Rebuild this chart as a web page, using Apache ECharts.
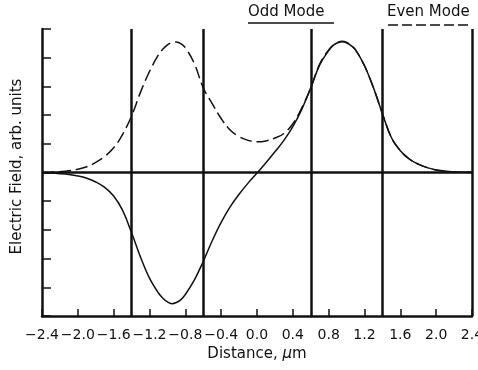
<!DOCTYPE html>
<html style="height: 100%">
<head>
<meta charset="utf-8">
<script src="https://cdn.jsdelivr.net/npm/echarts@6/dist/echarts.min.js"></script>
</head>
<body style="height: 100%; margin: 0; background: #fff">
<div id="container" style="width: 478px; height: 370px"></div>
<script type="text/javascript">
// distance across the structure, in micrometres (extra readings near the peaks)
var distance = [-2.4, -2.3, -2.2, -2.1, -2.0, -1.9, -1.8, -1.7, -1.6, -1.5, -1.4, -1.3, -1.2,
    -1.1, -1.05, -1.0, -0.95, -0.9, -0.85, -0.8, -0.7, -0.6, -0.5, -0.4, -0.3, -0.2, -0.1, 0.0,
    0.1, 0.2, 0.3, 0.4, 0.5, 0.6, 0.7, 0.8, 0.85, 0.9, 0.95, 1.0, 1.05, 1.1, 1.2, 1.3, 1.4, 1.5,
    1.6, 1.7, 1.8, 1.9, 2.0, 2.1, 2.2, 2.3, 2.4];

// odd mode field (solid)
var oddMode = [-0.01, -0.02, -0.04, -0.07, -0.12, -0.2, -0.33, -0.52, -0.82, -1.32, -2.1, -2.95,
    -3.68, -4.2, -4.38, -4.51, -4.57, -4.53, -4.43, -4.25, -3.75, -3.1, -2.38, -1.74, -1.2,
    -0.76, -0.37, -0.02, 0.34, 0.72, 1.12, 1.6, 2.2, 2.95, 3.75, 4.25, 4.43, 4.52, 4.56, 4.52,
    4.42, 4.27, 3.72, 2.95, 2.05, 1.22, 0.76, 0.47, 0.29, 0.17, 0.09, 0.05, 0.02, 0.01, 0.0];

// even mode field (dashed)
var evenMode = [0.0, 0.01, 0.03, 0.06, 0.11, 0.2, 0.35, 0.56, 0.86, 1.33, 1.97, 2.8, 3.52, 4.1,
    4.3, 4.45, 4.53, 4.55, 4.49, 4.35, 3.8, 2.95, 2.4, 1.88, 1.48, 1.25, 1.12, 1.07, 1.1, 1.2,
    1.36, 1.7, 2.25, 2.95, 3.78, 4.27, 4.44, 4.53, 4.57, 4.53, 4.43, 4.27, 3.72, 2.95, 2.05,
    1.22, 0.76, 0.47, 0.29, 0.17, 0.09, 0.05, 0.02, 0.01, 0.0];

// layer boundaries drawn as vertical lines
var boundaries = [-1.4, -0.6, 0.6, 1.4, 2.4];

var ink = '#111';
var font = 'DejaVu Sans';

var dom = document.getElementById('container');
var myChart = echarts.init(dom, null, { renderer: 'canvas' });

function pairs(ys) {
    return distance.map(function (x, i) { return [x, ys[i]]; });
}

var option = {
    animation: false,
    backgroundColor: '#fff',
    grid: { left: 42, right: 6, top: 29, bottom: 54, outerBoundsMode: 'none', containLabel: false },
    xAxis: {
        type: 'value',
        min: -2.4,
        max: 2.4,
        interval: 0.4,
        name: 'Distance, {mu|μ}m',
        nameLocation: 'middle',
        nameGap: 30,
        nameTextStyle: {
            color: ink, fontFamily: font, fontSize: 15,
            rich: { mu: { fontFamily: font, fontSize: 15, fontStyle: 'italic', color: ink } }
        },
        axisLine: { onZero: false, lineStyle: { color: ink, width: 2.5 } },
        axisTick: { inside: true, length: 7, lineStyle: { color: ink, width: 1.5 } },
        axisLabel: {
            margin: 12, color: ink, fontFamily: font, fontSize: 14,
            formatter: function (v) {
                return (v < -1e-9 ? '\u2212' : '') + Math.abs(v).toFixed(1);
            }
        },
        splitLine: { show: false }
    },
    yAxis: {
        type: 'value',
        min: -5,
        max: 5,
        interval: 1,
        name: 'Electric Field, arb. units',
        nameLocation: 'middle',
        nameGap: 17,
        nameTextStyle: { color: ink, fontFamily: font, fontSize: 15, padding: [0, 0, 0, 12] },
        axisLine: { show: true, onZero: false, lineStyle: { color: ink, width: 2.5 } },
        axisTick: { inside: true, length: 9, lineStyle: { color: ink, width: 1.5 } },
        axisLabel: { show: false },
        splitLine: { show: false }
    },
    graphic: [
        { type: 'text', left: 248, top: 5, style: { text: 'Odd Mode', fill: ink, font: '15px "DejaVu Sans"' } },
        { type: 'line', shape: { x1: 248, y1: 23, x2: 334, y2: 23 }, style: { stroke: ink, lineWidth: 1.5 } },
        { type: 'text', left: 387, top: 5, style: { text: 'Even Mode', fill: ink, font: '15px "DejaVu Sans"' } },
        { type: 'line', shape: { x1: 388, y1: 25, x2: 471, y2: 25 }, style: { stroke: ink, lineWidth: 1.5, lineDash: [10, 4] } }
    ],
    series: [
        {
            name: 'Even Mode',
            type: 'line',
            data: pairs(evenMode),
            smooth: 0.4,
            showSymbol: false,
            lineStyle: { color: ink, width: 1.5, type: [12, 5] },
            markLine: {
                silent: true,
                symbol: 'none',
                label: { show: false },
                lineStyle: { color: ink, width: 2.5, type: 'solid' },
                data: [{ yAxis: 0 }].concat(boundaries.map(function (b) { return { xAxis: b }; }))
            }
        },
        {
            name: 'Odd Mode',
            type: 'line',
            data: pairs(oddMode),
            smooth: 0.4,
            showSymbol: false,
            lineStyle: { color: ink, width: 1.5 }
        }
    ]
};

if (option && typeof option === 'object') {
    myChart.setOption(option);
}
</script>
</body>
</html>
